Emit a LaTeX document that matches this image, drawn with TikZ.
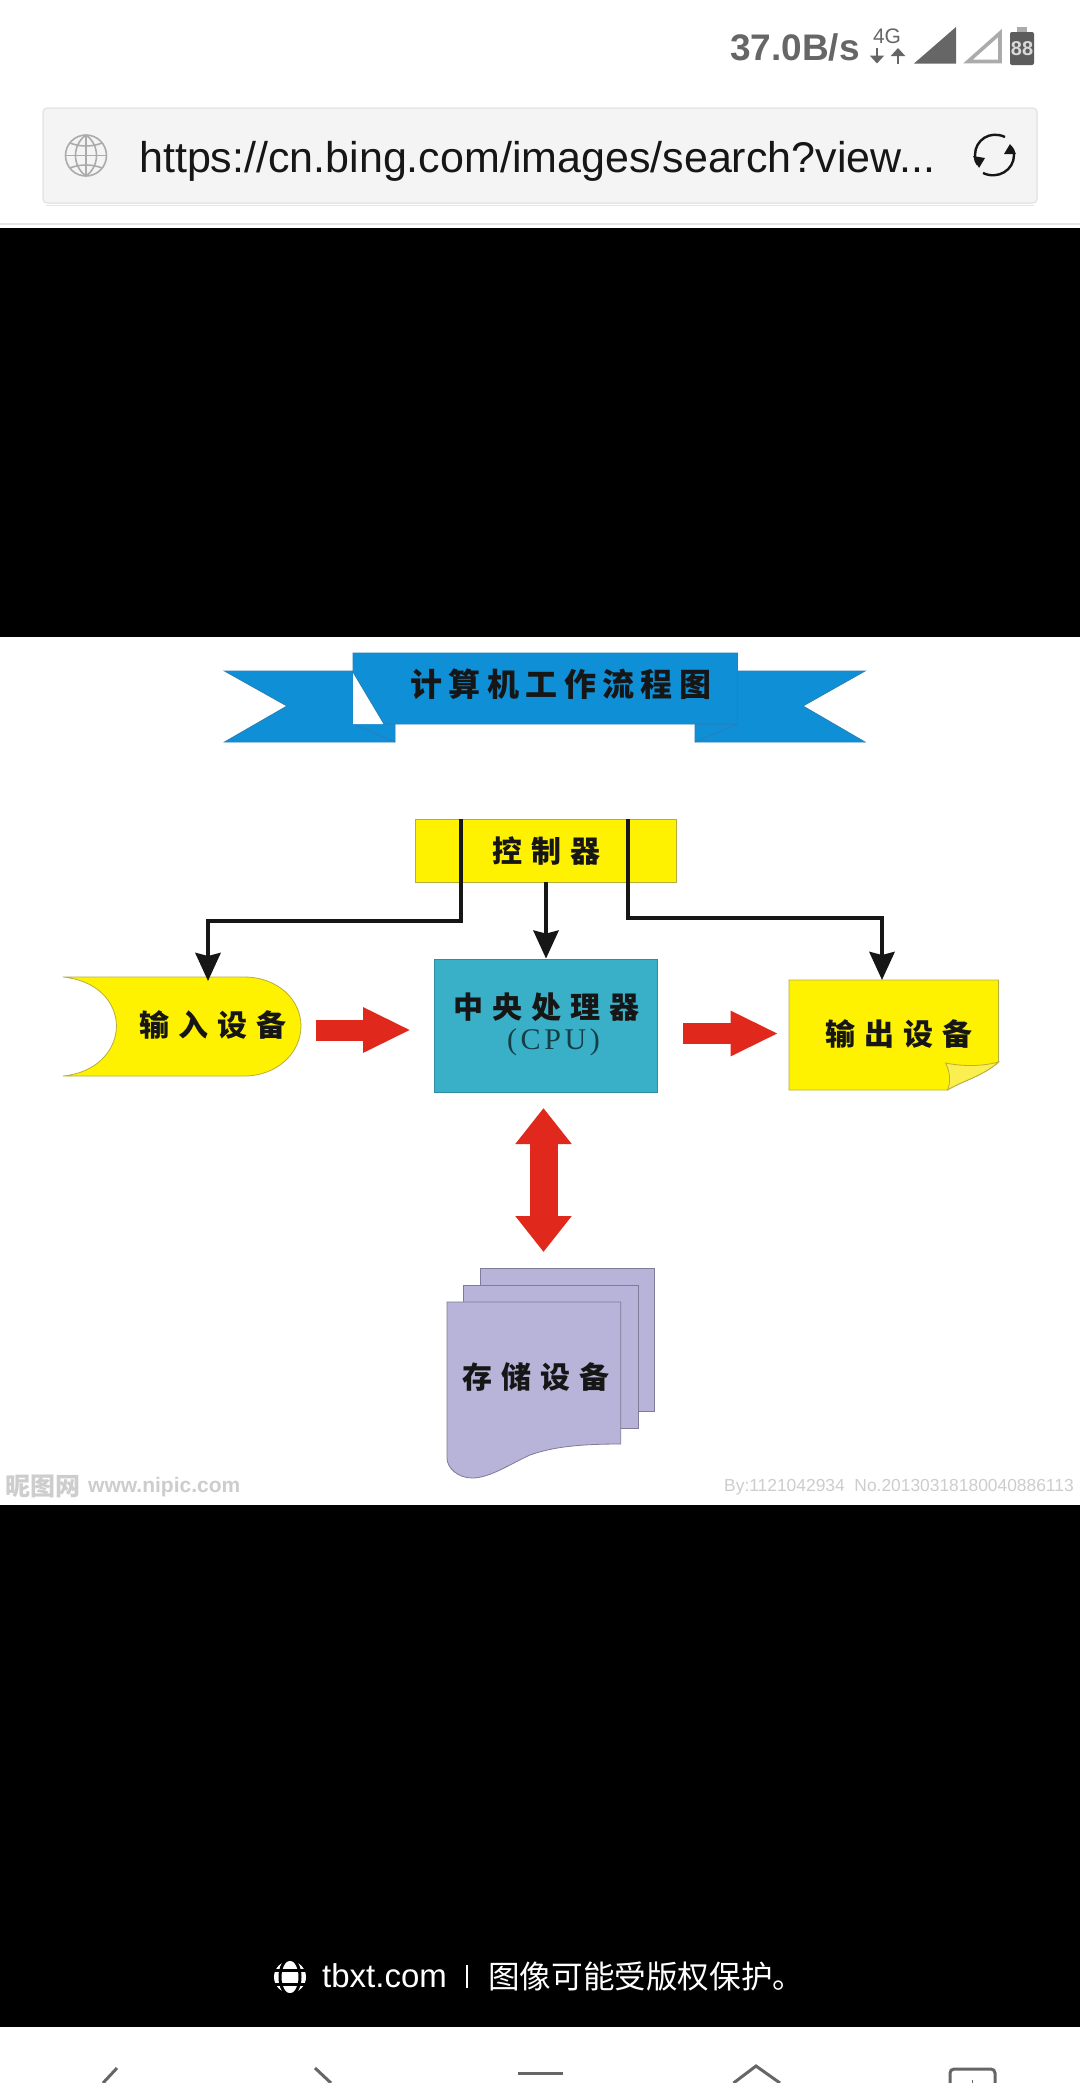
\documentclass[tikz,border=0pt]{standalone}
\usepackage{fontspec}
\usetikzlibrary{arrows.meta}
\setmainfont{Liberation Sans}
\newfontfamily\cjk{Noto Sans CJK SC}
\newfontfamily\cjkspaced[LetterSpace=30]{Noto Sans CJK SC}
\newfontfamily\cjktitle[LetterSpace=20]{Noto Sans CJK SC}
\newfontfamily\cpufont[LetterSpace=12]{Liberation Serif}
\definecolor{ribbon}{HTML}{0F8FD6}
\definecolor{ribbonedge}{HTML}{2A7FB8}
\definecolor{signyellow}{HTML}{FFF200}
\definecolor{yellowedge}{HTML}{B5AE3C}
\definecolor{flapyellow}{HTML}{FBEE50}
\definecolor{cputeal}{HTML}{3AB0C8}
\definecolor{paper}{HTML}{B8B4D9}
\definecolor{paperedge}{HTML}{7F7B98}
\definecolor{blockred}{HTML}{E0281C}
\definecolor{inkblack}{HTML}{161616}
\definecolor{statusgray}{HTML}{666666}
\definecolor{barfill}{HTML}{F4F4F4}
\definecolor{baredge}{HTML}{E6E6E6}
\definecolor{iconiso}{HTML}{ABABAB}
\definecolor{wmgray}{HTML}{CDCDCD}
\tikzset{
  px/.style={font=\fontsize{#1}{#1}\selectfont},
  box/.style={draw=#1,line width=.8pt,inner sep=0pt},
  label cjk/.style={inner sep=0pt,text=inkblack,font=\fontsize{30}{36}\cjkspaced\bfseries},
  ctrlarrow/.style={draw=inkblack,line width=4.5pt,-{Stealth[length=28pt,width=25pt,inset=3pt]}},
  blockarrow/.style={draw=blockred,line width=21pt,-{Triangle[length=48pt,width=42pt]}},
  blockboth/.style={draw=blockred,line width=28pt,{Triangle[length=36pt,width=54pt]}-{Triangle[length=36pt,width=54pt]}},
  navline/.style={draw=statusgray,line width=3pt},
}
\begin{document}
\begin{tikzpicture}[x=1pt,y=-1pt]
\useasboundingbox (0,0) rectangle (1080,2083);
\fill[white] (0,0) rectangle (1080,2083);
% status bar
\node[anchor=base east,inner sep=0pt,text=statusgray,font=\fontsize{37}{37}\selectfont\bfseries] (speed) at (860,60) {37.0B/s};
\node[anchor=base,inner sep=0pt,text=statusgray,px=21] (fourg) at (887,43) {4G};
\draw[statusgray,line width=2.4pt,-{Triangle[length=8pt,width=14pt]}] (877,48) -- (877,63.5);
\draw[statusgray,line width=2.4pt,-{Triangle[length=8pt,width=14pt]}] (898,64) -- (898,48);
\fill[statusgray] (956,27) -- (956,63.5) -- (914,63.5) -- cycle;
\draw[iconiso,line width=3.6pt,line join=miter] (1000,33) -- (1000,61.5) -- (968,61.5) -- cycle;
\fill[statusgray!90!black,rounded corners=2pt] (1010,32) rectangle (1034,65);
\fill[iconiso] (1017,27) rectangle (1027,32);
\node[inner sep=0pt,text=white!85!black,font=\fontsize{20}{20}\selectfont\bfseries] (batt) at (1022,48.5) {88};
% url bar
\draw[baredge,fill=barfill,line width=1.5pt,rounded corners=4pt] (43,108) rectangle (1037,203);
\draw[baredge,line width=1pt] (46,205) -- (1034,205);
\draw[baredge,line width=1.5pt] (0,224) -- (1080,224);
\draw[iconiso,line width=1.6pt] (86,155.5) circle (20.5);
\draw[iconiso,line width=1.6pt] (86,135) .. controls (72,145) and (72,166) .. (86,176);
\draw[iconiso,line width=1.6pt] (86,135) .. controls (100,145) and (100,166) .. (86,176);
\draw[iconiso,line width=1.6pt] (86,135) -- (86,176) (65.5,155.5) -- (106.5,155.5);
\draw[iconiso,line width=1.6pt] (70,143) .. controls (80,147) and (92,147) .. (102,143);
\draw[iconiso,line width=1.6pt] (70,168) .. controls (80,164) and (92,164) .. (102,168);
\node[anchor=base west,inner sep=0pt,text=inkblack,px=43] (url) at (139,172) {https://cn.bing.com/images/search?view...};
\draw[inkblack,line width=2.4pt] (1005,137) .. controls (990,130) and (975,140) .. (975,155) .. controls (975,160) and (976,163) .. (978,165);
\fill[inkblack] (979,168) -- (973,156) -- (985,158) -- cycle;
\draw[inkblack,line width=2.4pt] (983,173) .. controls (998,180) and (1014,170) .. (1014,155) .. controls (1014,151) and (1013,149) .. (1010,146);
\fill[inkblack] (1010,144) -- (1004,154) -- (1016,154) -- cycle;
% black bands
\fill[black] (0,228) rectangle (1080,637);
\fill[black] (0,1505) rectangle (1080,2027);
% ribbon
\filldraw[fill=ribbon,draw=ribbonedge,line width=.8pt] (353,671) -- (224.5,671) -- (287,706) -- (224.5,742) -- (395,742) -- (395,724) -- (353,724) -- cycle;
\filldraw[fill=ribbon,draw=ribbonedge,line width=.8pt] (737.5,671) -- (865,671) -- (803,706) -- (865,742) -- (695,742) -- (695,724) -- (737.5,724) -- cycle;
\draw[ribbonedge,line width=.8pt] (353,724) -- (395,742) (737.5,724) -- (695,742);
\fill[white] (353,672) -- (384,724) -- (353,724) -- cycle;
\filldraw[fill=ribbon,draw=ribbonedge,line width=.8pt] (353,653) -- (737.5,653) -- (737.5,724) -- (384,724) -- (353,672) -- cycle;
\node[inner sep=0pt,text=inkblack,font=\fontsize{32}{38}\cjktitle\bfseries] (title) at (561,684) {计算机工作流程图};
% controller
\node[box=yellowedge,fill=signyellow,minimum width=261pt,minimum height=63pt] (ctrl) at (546,850.5) {};
\node[label cjk] (ctrltext) at (546.5,851) {控制器};
% input device
\filldraw[fill=signyellow,draw=yellowedge,line width=.8pt] (63,977) .. controls (95,980) and (116,1000) .. (116.5,1026) .. controls (116,1052) and (95,1073) .. (63,1076) -- (244,1076) .. controls (278,1076) and (301,1052) .. (301,1026) .. controls (301,1000) and (278,977) .. (244,977) -- cycle;
\node[label cjk] (input) at (213,1025) {输入设备};
% cpu
\node[box=cputeal!80!black,fill=cputeal,minimum width=223pt,minimum height=133pt] (cpu) at (546,1025.5) {};
\node[label cjk] (cputext) at (546,1007) {中央处理器};
\node[inner sep=0pt,text=cputeal!35!black,font=\fontsize{30}{34}\cpufont] (cpuabbr) at (553.5,1042) {(CPU)};
% output device
\filldraw[fill=signyellow,draw=yellowedge,line width=.8pt] (789,980) -- (998.5,980) -- (998.5,1062) .. controls (985,1075) and (960,1082) .. (947.5,1090) -- (789,1090) -- cycle;
\filldraw[fill=flapyellow,draw=yellowedge,line width=.8pt] (998.5,1062) .. controls (980,1067) and (960,1066) .. (945.6,1063) .. controls (950,1072) and (951,1082) .. (947.5,1090) .. controls (960,1082) and (985,1075) .. (998.5,1062) -- cycle;
\node[label cjk] (output) at (899,1034) {输出设备};
% storage
\node[box=paperedge,fill=paper,minimum width=174pt,minimum height=143pt] (backpage) at (567,1339.5) {};
\node[box=paperedge,fill=paper,minimum width=175pt,minimum height=143pt] (midpage) at (550.5,1356.5) {};
\filldraw[fill=paper,draw=paperedge,line width=.8pt] (447,1302) -- (620.7,1302) -- (620.7,1444) .. controls (585,1444) and (555,1446) .. (530,1455) .. controls (510,1464) and (490,1478) .. (472,1478) .. controls (458,1478) and (447,1468) .. (447,1458) -- cycle;
\node[label cjk] (store) at (536,1377) {存储设备};
% connectors
\coordinate (ctrlL) at (461,819);
\coordinate (ctrlR) at (628,819);
\coordinate (inTop) at (208,981);
\coordinate (outTop) at (882,980);
\draw[ctrlarrow] (ctrlL) -- ++(0,102) -| (inTop);
\draw[ctrlarrow] (ctrl.south) -- (cpu.north);
\draw[ctrlarrow] (ctrlR) -- ++(0,99) -| (outTop);
\coordinate (inFrom) at (315.5,1030);
\coordinate (cpuIn) at (411,1030);
\coordinate (cpuOutFrom) at (683,1033.5);
\coordinate (outIn) at (778.5,1033.5);
\coordinate (cpuBelow) at (543.5,1108);
\coordinate (storeAbove) at (543.5,1252);
\draw[blockarrow] (inFrom) -- (cpuIn);
\draw[blockarrow] (cpuOutFrom) -- (outIn);
\draw[blockboth] (cpuBelow) -- (storeAbove);
% watermark
\node[anchor=west,inner sep=0pt,text=wmgray,font=\fontsize{25}{25}\cjk\bfseries] (wm1) at (5,1486) {昵图网};
\node[anchor=west,inner sep=0pt,text=wmgray,font=\fontsize{21}{21}\selectfont\bfseries] (wm2) at (88,1487) {www.nipic.com};
\node[anchor=east,inner sep=0pt,text=wmgray,font=\fontsize{17.4}{18}\selectfont] (wm3) at (1074,1487) {By:1121042934\ \ No.20130318180040886113};
% caption
\fill[white] (290,1977) circle (16);
\draw[black,line width=3pt] (272,1970) -- (308,1970) (272,1984) -- (308,1984);
\draw[black,line width=3pt] (290,1977) ellipse (10 and 18);
\node[anchor=west,inner sep=0pt,text=white,px=33] (tbxt) at (322,1976) {tbxt.com};
\draw[white,line width=1.5pt] (467,1965) -- (467,1988);
\node[anchor=west,inner sep=0pt,text=white,font=\fontsize{31.6}{36}\cjk] (notice) at (488,1976) {图像可能受版权保护。};
% navigation bar
\draw[navline] (117,2068) -- (103,2083);
\draw[navline] (315,2068) -- (331,2083);
\draw[navline] (518,2073) -- (563,2073);
\draw[navline] (733.5,2083) -- (756,2066) -- (780,2083);
\draw[navline,rounded corners=4pt] (950,2083) -- (950,2069) -- (995,2069) -- (995,2083);
\draw[statusgray,line width=1pt] (972.5,2080) -- (972.5,2083);
\end{tikzpicture}
\end{document}
